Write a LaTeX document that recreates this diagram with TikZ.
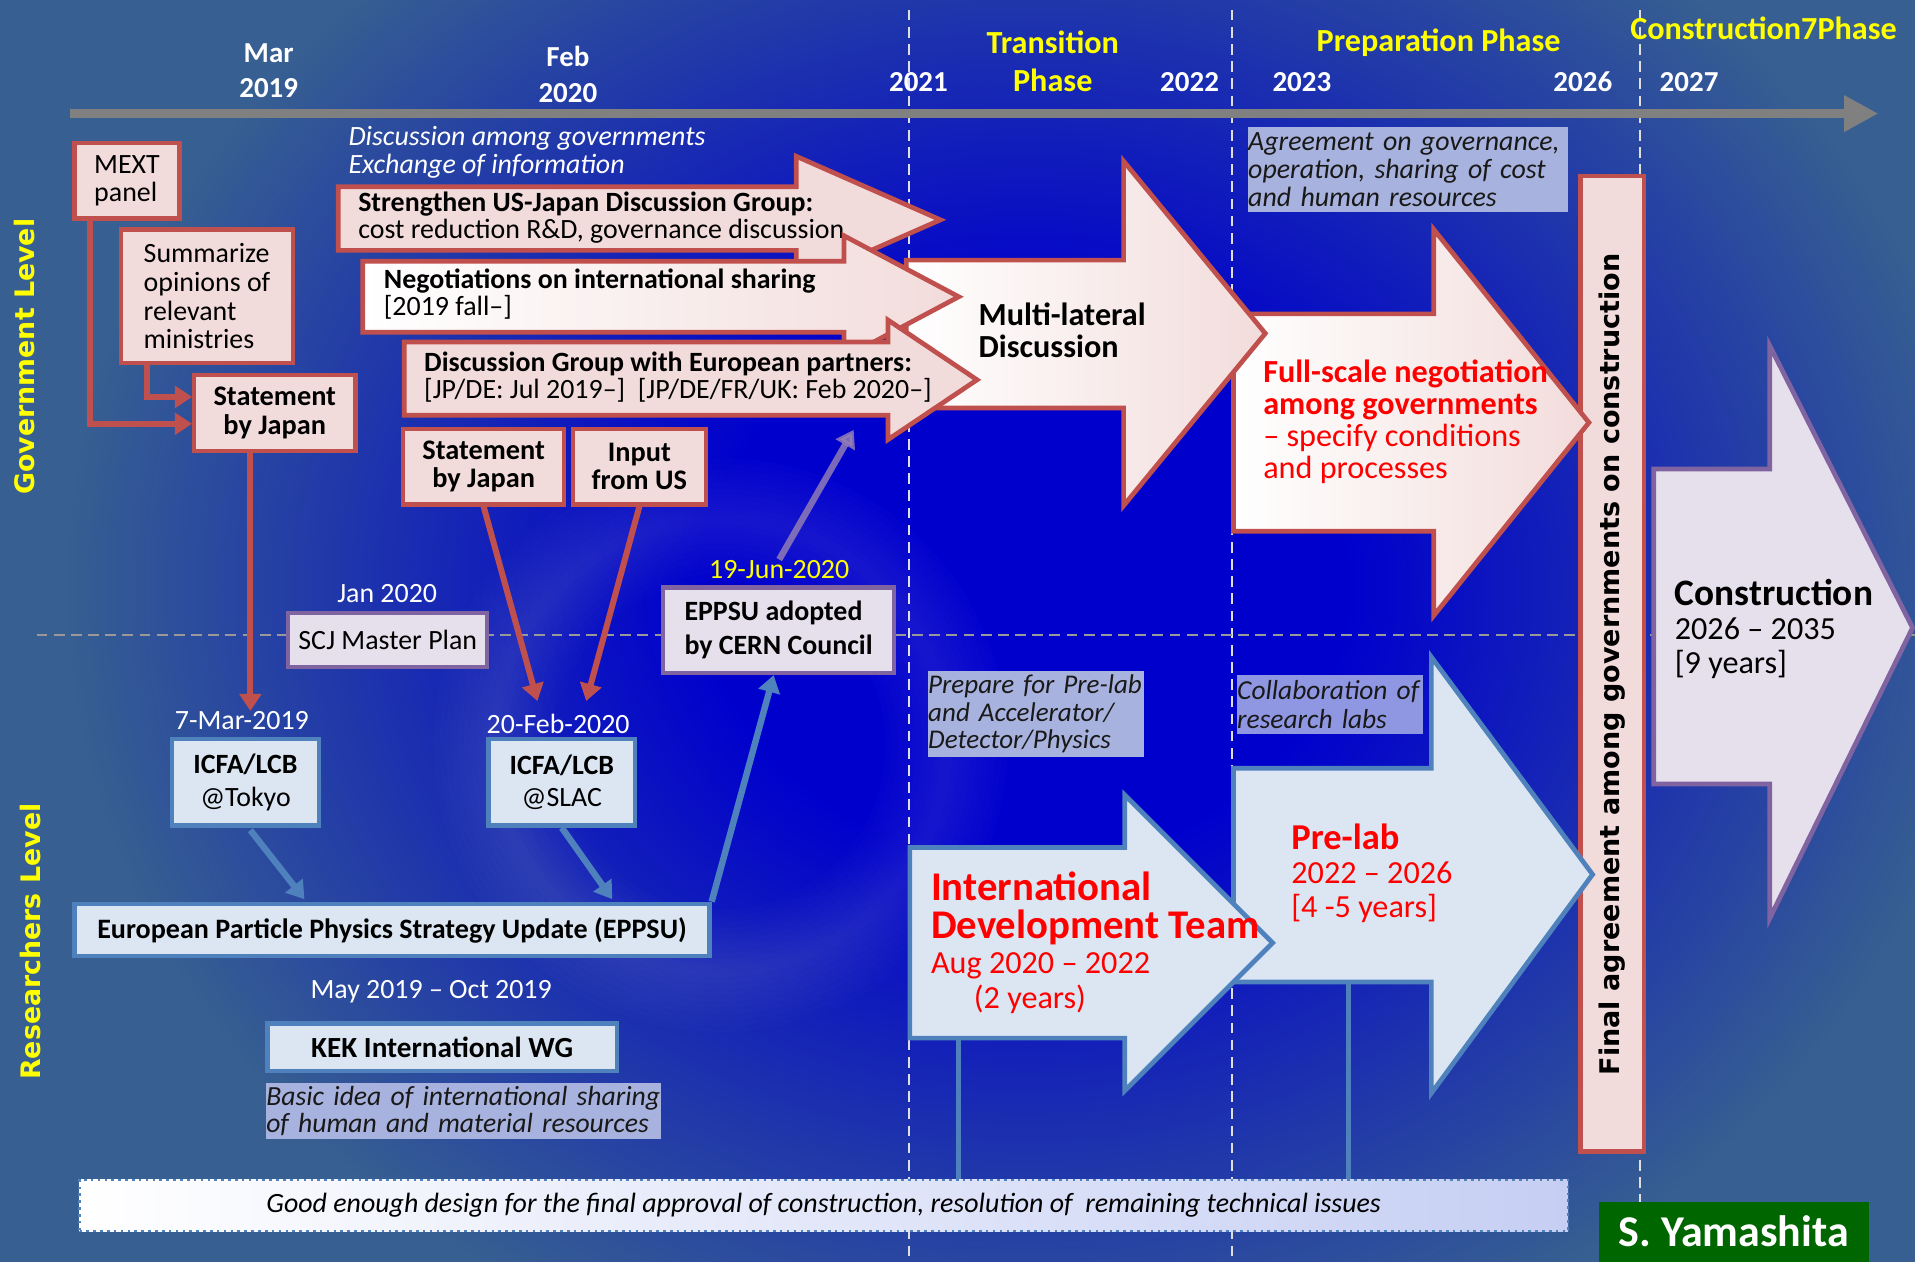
\documentclass[tikz,border=0pt]{standalone}
\usepackage{fontspec}
\setmainfont{Carlito}
\newfontfamily\verdfont{DejaVu Sans}
\usetikzlibrary{arrows.meta,positioning,calc,shadings}

\definecolor{steel}{RGB}{55,95,145}
\definecolor{deepblue}{RGB}{0,0,205}
\definecolor{govpink}{RGB}{242,220,219}
\definecolor{govred}{RGB}{192,80,77}
\definecolor{reslight}{RGB}{220,230,242}
\definecolor{resblue}{RGB}{79,129,189}
\definecolor{lavfill}{RGB}{230,224,236}
\definecolor{lavedge}{RGB}{128,100,162}
\definecolor{notefill}{RGB}{168,178,222}
\definecolor{phaseyellow}{RGB}{255,255,0}
\definecolor{markred}{RGB}{255,0,0}
\definecolor{signgreen}{RGB}{0,102,0}
\definecolor{axisgray}{RGB}{128,128,128}

\pgfdeclareradialshading{bgglow}{\pgfpoint{0bp}{0bp}}{color(0bp)=(deepblue); color(8bp)=(deepblue); color(24bp)=(steel); color(50bp)=(steel)}

\begin{document}
\begin{tikzpicture}[x=0.02cm, y=-0.02cm,
    govbox/.style={draw=govred, fill=govpink, line width=2pt, inner sep=0, align=left, font=\fontsize{13}{13.4}\selectfont},
    resbox/.style={draw=resblue, fill=reslight, line width=2pt, inner sep=0, align=center, font=\fontsize{13}{15.3}\selectfont},
    lavbox/.style={draw=lavedge, fill=lavfill, line width=2pt, inner sep=0, align=left, font=\fontsize{13}{15.8}\selectfont},
    note/.style={fill=notefill, inner xsep=0pt, inner ysep=1pt, align=left, text=black!90, font=\itshape\fontsize{12.9}{13}\selectfont},
    yearlabel/.style={text=white, font=\bfseries\fontsize{13.5}{16.5}\selectfont, align=center},
    phaselabel/.style={text=phaseyellow, font=\bfseries\fontsize{15}{17.5}\selectfont, align=center},
    datelabel/.style={text=white, inner sep=0, font=\fontsize{13}{13}\selectfont},
    levellabel/.style={text=phaseyellow, font=\verdfont\bfseries\fontsize{12.5}{14}\selectfont},
    arrowtext/.style={inner sep=0, align=left, font=\fontsize{13}{12.6}\selectfont},
    redtext/.style={inner sep=0, align=left, text=markred},
    govarrow/.style={draw=govred, line width=2.2pt, line join=miter},
    resarrow/.style={draw=resblue, fill=reslight, line width=2.2pt, line join=miter},
    phaseline/.style={draw=white!75!gray, line width=0.8pt, dash pattern=on 5pt off 3pt},
    redconn/.style={draw=govred, line width=2.8pt, -{Triangle[length=8pt,width=10pt]}},
    blueconn/.style={draw=resblue, line width=3pt, -{Triangle[length=8pt,width=10pt]}},
    purpconn/.style={draw=lavedge!80!white, line width=3pt, opacity=0.8, -{Triangle[length=8pt,width=10pt]}}
]
\useasboundingbox (0,0) rectangle (1568,1033);

% background
\fill[steel] (0,0) rectangle (1568,1033);
\begin{scope}
\clip (0,0) rectangle (1568,1033);
\shade[shading=bgglow] (840,480) ellipse (820 and 700);
\foreach \w in {10,20,...,100}
  \draw[white, line width=\w*0.02cm, opacity=0.012] (590,610) circle (185);
\end{scope}

% phase borders and level border
\draw[phaseline] (744,8) -- (744,1033);
\draw[phaseline] (1009,8) -- (1009,1033);
\draw[phaseline] (1343,8) -- (1343,1033);
\draw[draw=gray!80, line width=1.2pt, dash pattern=on 5pt off 3pt] (30,520) -- (1568,520);

% time axis
\draw[axisgray, line width=4.5pt, -{Triangle[length=16pt,width=16pt]}] (57,93) -- (1538,93);
\node[yearlabel] (mar19) at (220,58) {Mar\\2019};
\node[yearlabel] (feb20) at (465,61) {Feb\\2020};
\node[yearlabel] (y2021) at (752,67) {2021};
\node[yearlabel] (y2022) at (974,67) {2022};
\node[yearlabel] (y2023) at (1066,67) {2023};
\node[yearlabel] (y2026) at (1296,67) {2026};
\node[yearlabel] (y2027) at (1383,67) {2027};
\node[phaselabel] (transition) at (862,50) {Transition\\Phase};
\node[phaselabel] (preparation) at (1178,35) {Preparation Phase};
\node[phaselabel] (construct) at (1444,23) {Construction7Phase};

% levels
\node[levellabel, rotate=90] (govlevel) at (20,292) {Government Level};
\node[levellabel, rotate=90] (reslevel) at (25,771) {Researchers Level};

% final agreement bar
\node[govbox, minimum width=1.04cm, minimum height=15.98cm] (finalbar) at (1320,543.5) {};
\node[rotate=90, font=\verdfont\bfseries\fontsize{12.6}{14}\selectfont] (finaltext) at (1320,544) {Final agreement among governments on construction};

% government arrows
\draw[govarrow, left color=white, right color=govpink] (1010,257) -- (1174,257) -- (1174,188) -- (1301,346) -- (1174,504) -- (1174,435) -- (1010,435) -- cycle;
\node[redtext, anchor=west, font=\fontsize{15}{14.9}\selectfont] (fullscale) at (1034,345.5) {\textbf{Full-scale negotiation}\\\textbf{among governments}\\– specify conditions\\and processes};
\draw[govarrow, left color=white, right color=govpink] (742,213) -- (920,213) -- (920,132) -- (1036,273) -- (920,414) -- (920,334) -- (742,334) -- cycle;
\node[arrowtext, anchor=west, font=\bfseries\fontsize{15}{15.3}\selectfont] (multi) at (801,270.5) {Multi-lateral\\Discussion};
\draw[govarrow, fill=govpink] (277,153) -- (652,153) -- (652,128) -- (770,180) -- (652,232) -- (652,205) -- (277,205) -- cycle;
\node[arrowtext, anchor=west] (usjapan) at (293,178) {\textbf{Strengthen US-Japan Discussion Group:}\\cost reduction R\&D, governance discussion};
\draw[govarrow, left color=white, right color=govpink] (297,214) -- (691,214) -- (691,193) -- (785,243) -- (691,293) -- (691,272) -- (297,272) -- cycle;
\node[arrowtext, anchor=west] (negot) at (314,240.5) {\textbf{Negotiations on international sharing}\\{[}2019 fall–{]}};
\draw[govarrow, fill=govpink] (331,280) -- (727,280) -- (727,262) -- (800,311) -- (727,360) -- (727,340) -- (331,340) -- cycle;
\node[arrowtext, anchor=west] (europe) at (347,308.5) {\textbf{Discussion Group with European partners:}\\{[}JP/DE: Jul 2019–{]}~ {[}JP/DE/FR/UK: Feb 2020–{]}};
\node[inner sep=0, anchor=west, align=left, text=white, font=\itshape\fontsize{13}{13}\selectfont] (govdisc) at (285,125) {Discussion among governments\\Exchange of information};
\node[note, text width=5.24cm, minimum height=1.4cm, font=\itshape\fontsize{13}{13}\selectfont] (agree) at (1153,139) {Agreement on governance,\\operation, sharing of cost\\and human resources};

% construction
\draw[draw=lavedge, fill=lavfill, line width=2.2pt, line join=miter] (1354,384) -- (1449,384) -- (1449,283) -- (1566,514) -- (1449,752) -- (1449,642) -- (1354,642) -- cycle;
\node[inner sep=0, anchor=west, align=left, font=\fontsize{15}{15.9}\selectfont] (constr) at (1371,515) {{\bfseries\fontsize{17.4}{15.9}\selectfont Construction}\\2026 – 2035\\{[}9 years{]}};

% research arrows
\draw[resarrow] (1010,629) -- (1172,629) -- (1172,538) -- (1304,716) -- (1172,895) -- (1172,804) -- (1010,804) -- cycle;
\node[redtext, anchor=west, font=\fontsize{15}{15.9}\selectfont] (prelab) at (1057,715) {{\bfseries\fontsize{17}{15.9}\selectfont Pre-lab}\\2022 – 2026\\{[}4 -5 years{]}};
\draw[resarrow] (745,694) -- (921,694) -- (921,651) -- (1042,772) -- (921,893) -- (921,850) -- (745,850) -- cycle;
\node[redtext, anchor=west, font=\fontsize{15}{16.2}\selectfont] (idt) at (762,772) {{\bfseries\fontsize{19}{16.2}\selectfont International}\\[1.5pt]{\bfseries\fontsize{19}{16.2}\selectfont Development Team}\\Aug 2020 – 2022\\\hspace*{20pt}(2 years)};
\coordinate (idtfoot) at (785,850);
\coordinate (prelabfoot) at (1104,804);

% government boxes
\node[govbox, minimum width=1.72cm, minimum height=1.24cm] (mext) at (104,148) {MEXT\\panel};
\node[govbox, minimum width=2.82cm, minimum height=2.18cm] (summ) at (169.5,242.5) {Summarize\\opinions of\\relevant\\ministries};
\node[govbox, minimum width=2.64cm, minimum height=1.24cm, align=center, font=\bfseries\fontsize{13.2}{13.4}\selectfont] (stjA) at (225,338) {Statement\\by Japan};
\node[govbox, minimum width=2.64cm, minimum height=1.24cm, align=center, font=\bfseries\fontsize{13.2}{13.4}\selectfont] (stjB) at (396,382) {Statement\\by Japan};
\node[govbox, minimum width=2.18cm, minimum height=1.24cm, align=center, font=\bfseries\fontsize{13.2}{13.4}\selectfont] (inus) at (523.5,382) {Input\\from US};

% researcher boxes
\node[datelabel] (scjdate) at (317,486) {Jan 2020};
\node[lavbox, minimum width=3.26cm, minimum height=0.88cm] (scj) at (317.5,524) {SCJ Master Plan};
\node[datelabel] (tokdate) at (198,590) {7-Mar-2019};
\node[resbox, minimum width=2.4cm, minimum height=1.42cm] (tokyo) at (201,640.5) {\textbf{ICFA/LCB}\\@Tokyo};
\node[datelabel] (slacdate) at (457,593) {20-Feb-2020};
\node[resbox, minimum width=2.4cm, minimum height=1.42cm] (slac) at (460,640.5) {\textbf{ICFA/LCB}\\@SLAC};
\node[datelabel, text=phaseyellow] (cerndate) at (638,466) {19-Jun-2020};
\node[lavbox, minimum width=3.78cm, minimum height=1.4cm, font=\bfseries\fontsize{13}{15.8}\selectfont] (cern) at (637.5,516) {EPPSU adopted\\by CERN Council};
\node[resbox, minimum width=10.4cm, minimum height=0.86cm, font=\bfseries\fontsize{13.1}{14}\selectfont] (eppsu) at (321,761.5) {European Particle Physics Strategy Update (EPPSU)};
\node[datelabel] (eppsudate) at (353,812) {May 2019 – Oct 2019};
\node[resbox, minimum width=5.72cm, minimum height=0.78cm, font=\bfseries\fontsize{13.6}{14}\selectfont] (kek) at (362,857.5) {KEK International WG};
\node[note, text width=6.46cm, minimum height=0.92cm, font=\itshape\fontsize{12.9}{12.5}\selectfont] (basic) at (379.5,910) {Basic idea of international sharing\\of human and material resources};
\node[note, text width=3.54cm, minimum height=1.42cm, font=\itshape\fontsize{12.6}{13}\selectfont] (prep) at (848.5,584.5) {Prepare for Pre-lab\\and Accelerator/\\Detector/Physics};
\node[note, text width=3.04cm, minimum height=0.96cm, fill=notefill!85!blue, font=\itshape\fontsize{12.8}{13.6}\selectfont] (collab) at (1089,577) {Collaboration of\\research labs};

% bottom
\node[draw=resblue, line width=1.2pt, dotted, left color=white, right color=reslight!90!blue, minimum width=24.38cm, minimum height=0.84cm, font=\itshape\fontsize{13}{13}\selectfont] (good) at (674.5,987) {Good enough design for the final approval of construction, resolution of~ remaining technical issues};
\node[fill=signgreen, minimum width=4.42cm, minimum height=0.98cm, text=white, font=\bfseries\fontsize{20.5}{21}\selectfont] (sign) at (1419.5,1008.5) {S. Yamashita};

% connectors
\draw[redconn] ($(mext.south)+(-30,0)$) |- ($(stjA.west)+(0,9)$);
\draw[redconn] ($(summ.south)+(-49.5,0)$) |- ($(stjA.west)+(0,-13)$);
\coordinate (stjout) at ($(stjA.south)+(-20,0)$);
\draw[redconn] (stjout) -- (stjout |- tokdate.north);
\coordinate (slacinA) at (440,574);
\coordinate (slacinB) at (480,574);
\draw[redconn] (stjB.south) -- (slacinA);
\draw[redconn] (inus.south) -- (slacinB);
\draw[blueconn] ($(tokyo.south)+(4,2)$) -- ($(eppsu.north west)+(190,-2)$);
\draw[blueconn] (slac.south) -- ($(eppsu.north west)+(442,-2)$);
\draw[blueconn] (eppsu.north east) -- ($(cern.south)+(-4,0)$);
\coordinate (europefoot) at (699,352);
\draw[purpconn] (cerndate.north) -- (europefoot);
\draw[resblue, line width=2.2pt] (idtfoot) -- (idtfoot |- good.north);
\draw[resblue, line width=2.2pt] (prelabfoot) -- (prelabfoot |- good.north);
\end{tikzpicture}
\end{document}
